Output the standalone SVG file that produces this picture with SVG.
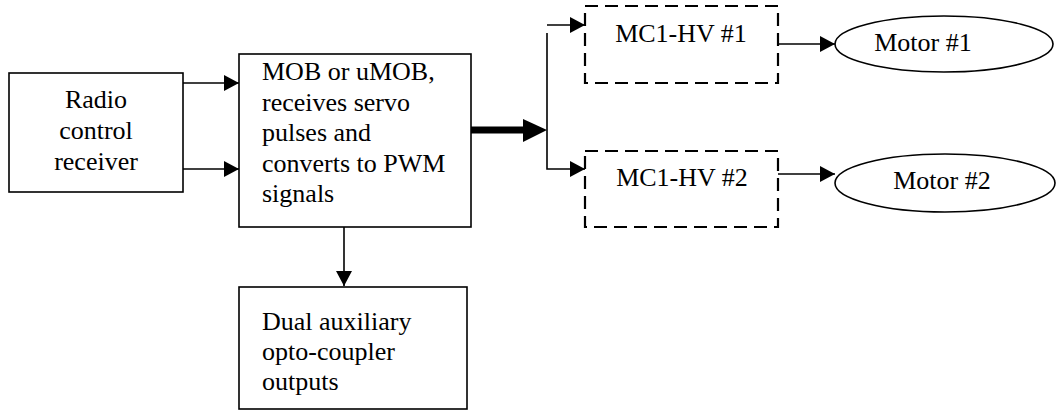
<svg xmlns="http://www.w3.org/2000/svg" width="1058" height="411" viewBox="0 0 1058 411" font-family="Liberation Serif, Times New Roman, serif">
<defs>
<style>
.box{fill:#fff;stroke:#000;stroke-width:1.6}
.dash{fill:#fff;stroke:#000;stroke-width:2.2;stroke-dasharray:13 7}
text{font-family:'Liberation Serif','Times New Roman',serif;font-size:26px;fill:#000}
.c{text-anchor:middle}
.ln{fill:none;stroke:#000;stroke-width:1.6}
</style>
<marker id="ah" viewBox="0 0 15 16" markerWidth="15" markerHeight="16" refX="15" refY="8" orient="auto" markerUnits="userSpaceOnUse">
<path d="M0,0 L15,8 L0,16 z" fill="#000"/>
</marker>
</defs>
<rect width="1058" height="411" fill="#fff"/>
<g id="connectors">
<path class="ln" d="M183,83 H239" marker-end="url(#ah)"/>
<path class="ln" d="M183,169 H239" marker-end="url(#ah)"/>
<path d="M471,130 H526" stroke="#000" stroke-width="7" fill="none"/>
<path d="M523,119 L547,130 L523,142 z" fill="#000"/>
<path class="ln" d="M547,25 H585" marker-end="url(#ah)"/>
<path class="ln" d="M547,33 V169 H585" marker-end="url(#ah)"/>
<path class="ln" d="M778,44 H835" marker-end="url(#ah)"/>
<path class="ln" d="M778,174 H835" marker-end="url(#ah)"/>
<path class="ln" d="M344,227 V286" marker-end="url(#ah)"/>
</g>
<g id="radio">
<rect class="box" x="9" y="73" width="174" height="119"/>
<text class="c" x="96" y="108">Radio</text>
<text class="c" x="96" y="139">control</text>
<text class="c" x="96" y="170">receiver</text>
</g>
<g id="mob">
<rect class="box" x="239" y="54" width="232" height="173"/>
<text x="262" y="80">MOB or uMOB,</text>
<text x="262" y="110.5">receives servo</text>
<text x="262" y="141">pulses and</text>
<text x="262" y="171.5">converts to PWM</text>
<text x="262" y="202">signals</text>
</g>
<g id="mc1">
<rect class="dash" x="585" y="6" width="193" height="77"/>
<text class="c" x="681" y="42">MC1-HV #1</text>
</g>
<g id="mc2">
<rect class="dash" x="585" y="151" width="193" height="76"/>
<text class="c" x="682" y="186">MC1-HV #2</text>
</g>
<g id="motor1">
<ellipse class="box" cx="944" cy="44" rx="109" ry="28"/>
<text class="c" x="923" y="51">Motor #1</text>
</g>
<g id="motor2">
<ellipse class="box" cx="945" cy="183" rx="110" ry="29"/>
<text class="c" x="942" y="189">Motor #2</text>
</g>
<g id="dual">
<rect class="box" x="239" y="287" width="228" height="122"/>
<text x="262" y="330">Dual auxiliary</text>
<text x="262" y="360">opto-coupler</text>
<text x="262" y="390">outputs</text>
</g>
</svg>
